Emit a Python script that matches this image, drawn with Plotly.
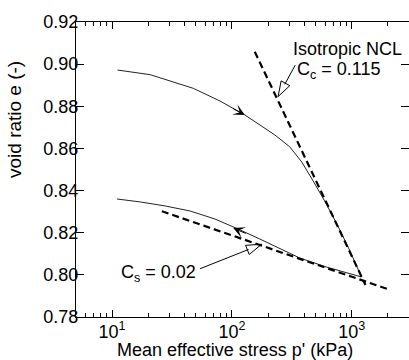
import plotly.graph_objects as go
import numpy as np

# ---- data ----
load_p = [11.1, 20.8, 47.7, 79.5, 128, 171, 228, 303, 382, 471, 593, 746, 957, 1204]
load_e = [0.8972, 0.8950, 0.8885, 0.8825, 0.8759, 0.8711, 0.8664, 0.8608, 0.8536, 0.8450, 0.8351, 0.8245, 0.8118, 0.7990]

unload_p = [1204, 616, 368, 251, 171, 112, 72.2, 44.8, 27.7, 17.2, 11.0]
unload_e = [0.7990, 0.8037, 0.8080, 0.8123, 0.8170, 0.8218, 0.8265, 0.8303, 0.8327, 0.8346, 0.8360]

ncl_p = [155, 1300]
ncl_e = [0.9059, 0.7952]

cs_p = [26, 2000]
cs_e = [0.8302, 0.7932]

y_ticks = [0.78, 0.80, 0.82, 0.84, 0.86, 0.88, 0.90, 0.92]
x_ticks = [10, 100, 1000]
x_ticktext = ["10<sup>1</sup>", "10<sup>2</sup>", "10<sup>3</sup>"]
x_minor = [6, 7, 8, 9, 20, 30, 40, 50, 60, 70, 80, 90, 200, 300, 400, 500, 600, 700, 800, 900, 2000]

# arrow tips (data) for the label pointers
ncl_tip = (242.6, 0.8846)
cs_tip = (176.6, 0.8145)
# direction arrows on the curves
load_arrow = (128, 0.8759)
unload_arrow = (102.5, 0.8222)

FONT = "Arial, Liberation Sans, sans-serif"

fig = go.Figure()
fig.add_trace(go.Scatter(x=load_p, y=load_e, mode="lines",
                         line=dict(color="#222", width=1), showlegend=False))
fig.add_trace(go.Scatter(x=unload_p, y=unload_e, mode="lines",
                         line=dict(color="#222", width=1), showlegend=False))
fig.add_trace(go.Scatter(x=ncl_p, y=ncl_e, mode="lines",
                         line=dict(color="black", width=2.2, dash="7px,4px"), showlegend=False))
fig.add_trace(go.Scatter(x=cs_p, y=cs_e, mode="lines",
                         line=dict(color="black", width=2.2, dash="7px,4px"), showlegend=False))
# hollow arrow heads
fig.add_trace(go.Scatter(x=[ncl_tip[0], cs_tip[0]], y=[ncl_tip[1], cs_tip[1]], mode="markers",
                         marker=dict(symbol="arrow-open", size=16, angle=[209, 68.5],
                                     color="black", line=dict(width=1, color="black")),
                         showlegend=False))

annotations = [
    # pointer shafts
    dict(x=np.log10(ncl_tip[0]), y=ncl_tip[1], xref="x", yref="y", text="", showarrow=True,
         arrowhead=0, ax=18, ay=-33, standoff=14, arrowwidth=1, arrowcolor="black"),
    dict(x=np.log10(cs_tip[0]), y=cs_tip[1], xref="x", yref="y", text="", showarrow=True,
         arrowhead=0, ax=-63, ay=25, standoff=14, arrowwidth=1, arrowcolor="black"),
    # direction arrows
    dict(x=np.log10(load_arrow[0]), y=load_arrow[1], xref="x", yref="y", text="", showarrow=True,
         arrowhead=3, arrowsize=1.9, arrowwidth=1, ax=-13, ay=-7, arrowcolor="black"),
    dict(x=np.log10(unload_arrow[0]), y=unload_arrow[1], xref="x", yref="y", text="", showarrow=True,
         arrowhead=3, arrowsize=1.9, arrowwidth=1, ax=14, ay=6, arrowcolor="black"),
    # texts
    dict(x=0.8168, y=0.9085, xref="paper", yref="paper", text="Isotropic NCL", showarrow=False,
         xanchor="center", yanchor="middle", font=dict(size=18, family=FONT, color="black")),
    dict(x=0.6577, y=0.835, xref="paper", yref="paper", text="C<sub>c</sub> = 0.115", showarrow=False,
         xanchor="left", yanchor="middle", font=dict(size=18, family=FONT, color="black")),
    dict(x=0.129, y=0.147, xref="paper", yref="paper", text="C<sub>s</sub> = 0.02", showarrow=False,
         xanchor="left", yanchor="middle", font=dict(size=18, family=FONT, color="black")),
    # axis titles
    dict(x=0.4775, y=-0.112, xref="paper", yref="paper", text="Mean effective stress p' (kPa)",
         showarrow=False, xanchor="center", yanchor="middle",
         font=dict(size=18, family=FONT, color="black")),
    dict(x=-0.183, y=0.668, xref="paper", yref="paper", text="void ratio e (-)", textangle=-90,
         showarrow=False, xanchor="center", yanchor="middle",
         font=dict(size=19, family=FONT, color="black")),
]

fig.update_layout(
    width=409, height=360,
    margin=dict(l=76, r=0, t=22, b=43),
    paper_bgcolor="white", plot_bgcolor="white",
    font=dict(family=FONT, size=18, color="black"),
    annotations=annotations,
    showlegend=False,
)
fig.update_xaxes(type="log", range=[np.log10(5), np.log10(3000)],
                 tickvals=x_ticks, ticktext=x_ticktext,
                 ticks="inside", ticklen=7, tickwidth=1, tickcolor="black",
                 showline=True, linecolor="black", linewidth=1.3, mirror="ticks",
                 showgrid=False, zeroline=False, ticklabelstandoff=-2,
                 tickfont=dict(size=18, family=FONT, color="black"),
                 minor=dict(tickvals=x_minor, ticks="inside", ticklen=4, tickwidth=1,
                            tickcolor="black", showgrid=False))
fig.update_yaxes(range=[0.78, 0.92], tickvals=y_ticks, tickformat=".2f",
                 ticks="inside", ticklen=8, tickwidth=1, tickcolor="black",
                 showline=True, linecolor="black", linewidth=1.3, mirror="ticks",
                 showgrid=False, zeroline=False, ticklabelstandoff=-7,
                 tickfont=dict(size=18, family=FONT, color="black"))

fig.write_html("out.html")
